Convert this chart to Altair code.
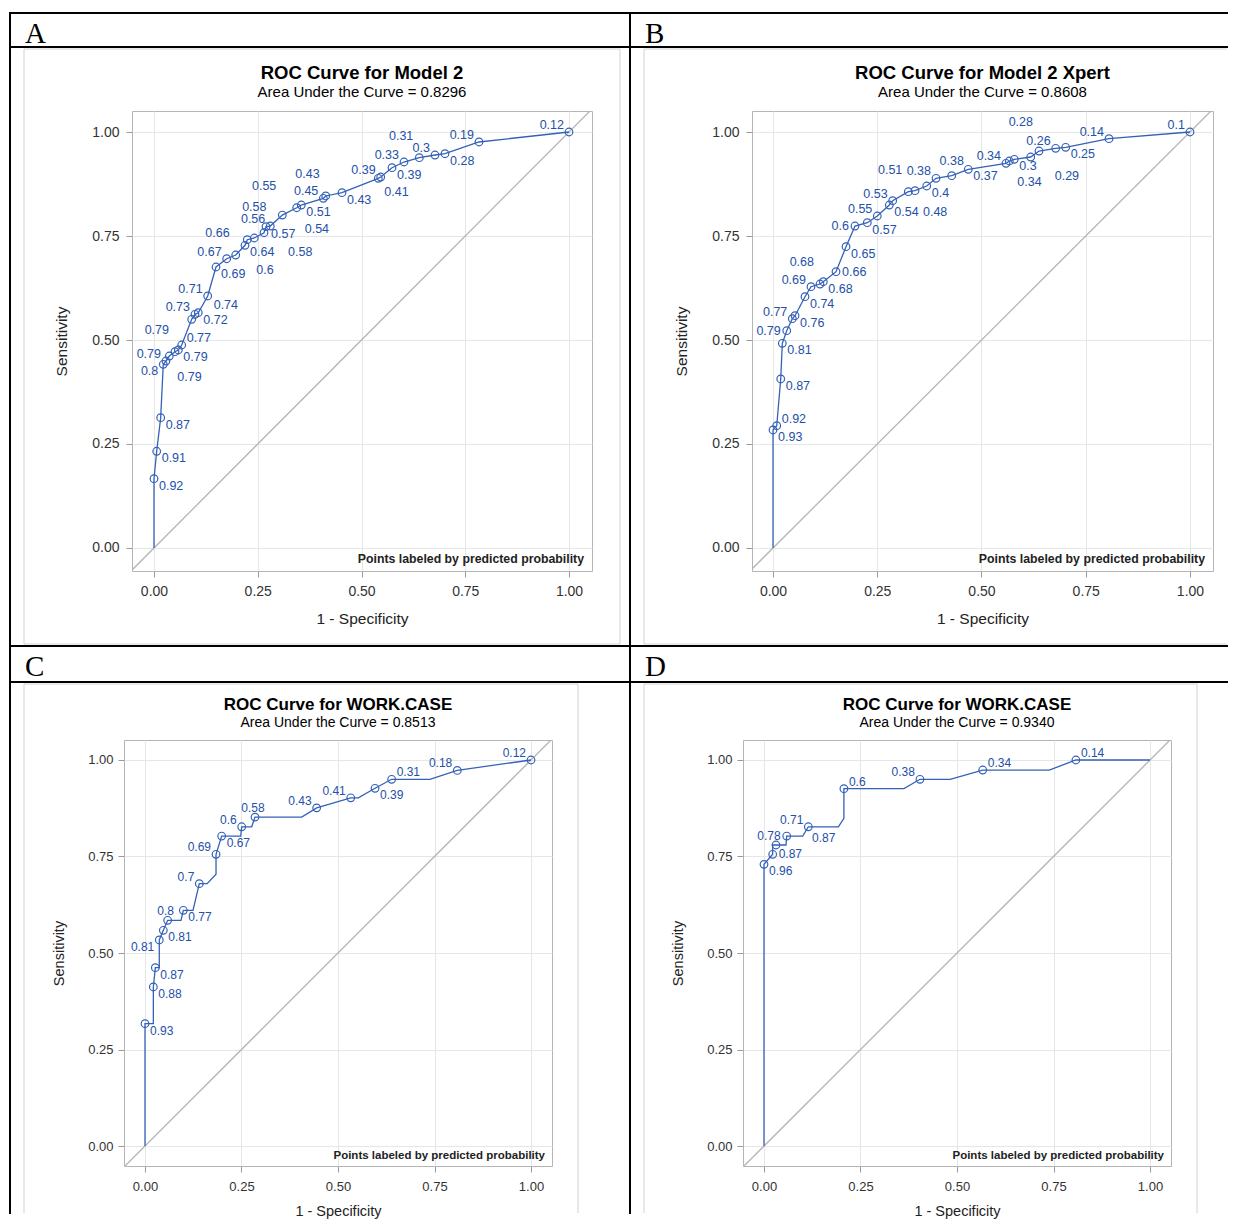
import altair as alt
import pandas as pd

# ---------------- Panel A : ROC Curve for Model 2 ----------------
a_fpr = [0.0, 0.0, 0.0065, 0.0161, 0.0224, 0.0289, 0.0369, 0.0506, 0.0586, 0.0667,
         0.0908, 0.0988, 0.1067, 0.1294, 0.1494, 0.1752, 0.1969, 0.2193, 0.2248, 0.2417,
         0.2651, 0.2699, 0.2802, 0.3092, 0.3439, 0.3549, 0.4080, 0.4137, 0.4530, 0.5405,
         0.5463, 0.5735, 0.6024, 0.6393, 0.6771, 0.7012, 0.7831, 1.0]
a_tpr = [0.0, 0.1666, 0.2325, 0.3132, 0.4416, 0.4495, 0.4615, 0.4719, 0.4760, 0.4880,
         0.5498, 0.5618, 0.5656, 0.6058, 0.6755, 0.6954, 0.7043, 0.7276, 0.7411, 0.7452,
         0.7579, 0.7724, 0.7740, 0.8003, 0.8180, 0.8245, 0.8406, 0.8462, 0.8541, 0.8887,
         0.8918, 0.9142, 0.9279, 0.9382, 0.9447, 0.9478, 0.9760, 1.0]
a_prob = ["", "0.92", "0.91", "0.87", "0.8", "0.79", "0.79", "0.79", "0.79", "0.77",
          "0.74", "0.73", "0.72", "0.71", "0.69", "0.67", "0.66", "0.64", "0.6", "0.58",
          "0.58", "0.57", "0.56", "0.55", "0.54", "0.51", "0.45", "0.43", "0.43", "0.41",
          "0.39", "0.39", "0.33", "0.31", "0.3", "0.28", "0.19", "0.12"]
a_lpos = ["", "se", "se", "se", "sw", "nw", "se2", "nw2", "se", "ne",
          "ne2", "nw", "se", "nw", "se", "nw", "nw2", "se", "se3", "n3",
          "se4", "se", "nw", "nw3", "se2", "se", "nw", "nw2", "se", "sse",
          "nw", "se", "nw", "nw2", "nw", "se", "nw", "nw"]

# ---------------- Panel B : ROC Curve for Model 2 Xpert ----------------
b_fpr = [0.0, 0.0, 0.0089, 0.0185, 0.0223, 0.0329, 0.0463, 0.0528, 0.0767, 0.0911,
         0.1127, 0.1206, 0.1511, 0.1751, 0.1966, 0.2261, 0.2501, 0.2789, 0.2870, 0.3245,
         0.3405, 0.3686, 0.3909, 0.4285, 0.4683, 0.5588, 0.5667, 0.5787, 0.6180, 0.6379,
         0.6779, 0.7019, 0.8058, 1.0]
b_tpr = [0.0, 0.2837, 0.2940, 0.4063, 0.4921, 0.5224, 0.5512, 0.5584, 0.6041, 0.6281,
         0.6346, 0.6401, 0.6642, 0.7243, 0.7740, 0.7820, 0.7981, 0.8245, 0.8349, 0.8565,
         0.8589, 0.8702, 0.8887, 0.8950, 0.9103, 0.9248, 0.9303, 0.9344, 0.9399, 0.9543,
         0.9608, 0.9632, 0.9839, 1.0]
b_prob = ["", "0.93", "0.92", "0.87", "0.81", "0.79", "0.77", "0.76", "0.74", "0.69",
          "0.68", "0.68", "0.66", "0.65", "0.6", "0.57", "0.55", "0.54", "0.53", "0.51",
          "0.48", "0.4", "0.38", "0.38", "0.37", "0.34", "0.34", "0.3", "0.29", "0.28",
          "0.26", "0.25", "0.14", "0.1"]
b_lpos = ["", "se", "ne", "se", "se", "w", "nw", "se", "se", "nw",
          "nw2", "se", "e", "se", "w", "se", "nw", "se", "nw", "nw2",
          "se2", "se", "nw", "n", "se", "nw", "se2", "se", "se4", "nw3",
          "nw", "se", "nw", "nw"]

# ---------------- Panel C : ROC Curve for WORK.CASE (0.8513) ----------------
c_fpr = [0.0, 0.0, 0.0216, 0.0216, 0.0268, 0.037, 0.037, 0.0475, 0.0587, 0.0933,
         0.0993, 0.1244, 0.1407, 0.161, 0.184, 0.184, 0.1986, 0.248, 0.2505, 0.2764,
         0.285, 0.406, 0.4447, 0.533, 0.5527, 0.596, 0.639, 0.738, 0.809, 1.0]
c_tpr = [0.0, 0.317, 0.317, 0.412, 0.462, 0.462, 0.5337, 0.5588, 0.5847, 0.5847,
         0.6106, 0.6106, 0.6796, 0.6796, 0.704, 0.7557, 0.803, 0.803, 0.827, 0.827,
         0.852, 0.852, 0.876, 0.902, 0.902, 0.9267, 0.950, 0.950, 0.973, 1.0]
c_prob = ["", "0.93", "", "0.88", "0.87", "", "0.81", "0.81", "0.8", "",
          "0.77", "", "0.7", "", "", "0.69", "0.67", "", "0.6", "",
          "0.58", "", "0.43", "0.41", "", "0.39", "0.31", "", "0.18", "0.12"]
c_lpos = ["", "se", "", "se", "se", "", "sw", "se", "n1", "",
          "se", "", "nw", "", "", "nw", "se", "", "nw", "",
          "n1", "", "nw", "nw", "", "se", "ne", "", "nw", "nw"]

# ---------------- Panel D : ROC Curve for WORK.CASE (0.9340) ----------------
d_fpr = [0.0, 0.0, 0.0225, 0.0225, 0.031, 0.057, 0.0588, 0.1002, 0.1148, 0.1926,
         0.207, 0.207, 0.3627, 0.404, 0.482, 0.5666, 0.739, 0.808, 1.0]
d_tpr = [0.0, 0.7297, 0.7557, 0.7798, 0.7798, 0.7798, 0.803, 0.803, 0.827, 0.827,
         0.849, 0.9257, 0.9257, 0.950, 0.950, 0.974, 0.974, 1.0, 1.0]
d_prob = ["", "0.96", "0.87", "", "0.87", "", "0.78", "", "0.71", "",
          "", "0.6", "", "0.38", "", "0.34", "", "0.14", ""]
d_lpos = ["", "se", "e", "", "e2", "", "w", "", "nw", "",
          "", "ne", "", "nw", "", "ne", "", "ne", ""]

tick_values = [0.0, 0.25, 0.5, 0.75, 1.0]

# ---------------- styling ----------------
FONT = "Liberation Sans"
LINE_BLUE = "#3461B8"
LABEL_BLUE = "#2450A8"

# label placement codes -> (dx, dy, align)
POS = {
    "ne": (5, -7, "left"), "nw": (-5, -7, "right"),
    "se": (5, 7, "left"), "sw": (-5, 7, "right"),
    "e": (6, 0, "left"), "w": (-6, 0, "right"),
    "n": (0, -15, "center"), "n1": (-2, -9, "center"),
    "nw2": (-6, -22, "right"), "se2": (8, 21, "left"),
    "ne2": (22, -14, "left"), "e2": (36, -7, "left"),
    "n3": (0, -31, "center"), "nw3": (-6, -29, "right"),
    "se3": (9, 30, "left"), "se4": (24, 19, "left"),
    "sse": (6, 14, "left"),
}

ONE = pd.DataFrame({"k": [0]})


def bar(box, frame, opacity=1.0):
    """solid black table-border strip, box = (x1, y1, x2, y2) in page pixels"""
    fx, fy = frame
    x1, y1, x2, y2 = box
    return alt.Chart(ONE).mark_rect(color="black", opacity=opacity).encode(
        x=alt.value(x1 - fx), x2=alt.value(x2 - fx),
        y=alt.value(y1 - fy), y2=alt.value(y2 - fy))


def seg(p1, p2, frame, color="#d2d2d2", width=1):
    fx, fy = frame
    return alt.Chart(ONE).mark_rule(color=color, strokeWidth=width).encode(
        x=alt.value(p1[0] - fx), x2=alt.value(p2[0] - fx),
        y=alt.value(p1[1] - fy), y2=alt.value(p2[1] - fy))


def note(text, x, y, size, weight="normal", align="center", baseline="middle",
         font=FONT, color="#000000"):
    return alt.Chart(ONE).mark_text(text=text, fontSize=size, fontWeight=weight, align=align,
                                    baseline=baseline, font=font, color=color).encode(
        x=alt.value(x), y=alt.value(y))


def panel(fpr, tpr, prob, lpos, P):
    df = pd.DataFrame({"i": list(range(len(fpr))), "fpr": fpr, "tpr": tpr,
                       "prob": prob, "pos": lpos})
    pts = df[df["prob"] != ""]
    W, H = P["W"], P["H"]
    xs = alt.Scale(domain=P["xdom"], nice=False, zero=False)
    ys = alt.Scale(domain=P["ydom"], nice=False, zero=False)
    common = dict(values=tick_values, format=".2f", grid=True, gridColor="#e6e6e6",
                  domain=False, ticks=True, tickColor="#9a9a9a", tickSize=6,
                  labelFont=FONT, labelFontSize=P["tick_fs"], labelColor="#333333",
                  titleFont=FONT, titleFontSize=P["axt_fs"], titleFontWeight="normal",
                  titleColor="#222222")
    xaxis = alt.Axis(labelPadding=P["xlp"], titlePadding=P["xtp"], **common)
    yaxis = alt.Axis(labelPadding=P["ylp"], titlePadding=P["ytp"], **common)
    X = alt.X("fpr:Q", scale=xs, axis=xaxis, title="1 - Specificity")
    Y = alt.Y("tpr:Q", scale=ys, axis=yaxis, title="Sensitivity")

    diag_df = pd.DataFrame({"fpr": [-0.2, 1.2], "tpr": [-0.2, 1.2]})
    layers = [
        alt.Chart(diag_df).mark_line(color="#b4b4b4", strokeWidth=1.3, clip=True).encode(x=X, y=Y),
        alt.Chart(df).mark_line(color=LINE_BLUE, strokeWidth=1.3).encode(x=X, y=Y, order="i:Q"),
        alt.Chart(pts).mark_point(shape="circle", filled=False, size=58, color=LINE_BLUE,
                                  strokeWidth=1.2, opacity=1).encode(x=X, y=Y),
    ]
    for code, (dx, dy, al) in POS.items():
        sub = pts[pts["pos"] == code]
        if len(sub) == 0:
            continue
        layers.append(alt.Chart(sub).mark_text(dx=dx, dy=dy, align=al, baseline="middle",
                                               font=FONT, fontSize=P["lab_fs"],
                                               color=LABEL_BLUE).encode(x=X, y=Y, text="prob:N"))
    # titles and footnote
    layers.append(note(P["title"], W / 2, P["ty"], P["title_fs"], weight="bold"))
    layers.append(note(P["sub"], W / 2, P["sy"], P["sub_fs"]))
    layers.append(note("Points labeled by predicted probability", W - P["fn_dx"], H - P["fn_dy"],
                       P["fn_fs"], weight="bold", align="right", color="#222222"))
    # table cell decoration
    fr = P["frame"]
    for box in P["black"]:
        layers.append(bar(box, fr))
    for box in P.get("ghost", []):
        layers.append(bar(box, fr, opacity=0.0))
    for (x1, y1, x2, y2) in P["gray"]:
        layers.append(seg((x1, y1), (x2, y2), fr))
    lx, ly = P["letter_at"]
    layers.append(note(P["letter"], lx - fr[0], ly - fr[1], 29, align="left",
                       baseline="alphabetic", font="Liberation Serif"))
    return alt.layer(*layers).properties(width=W, height=H)


def spacer():
    # tiny invisible cell so both rows are positioned by their bounds
    return alt.Chart(ONE).mark_rule(opacity=0, strokeWidth=0).encode(
        x=alt.value(0), x2=alt.value(0), y=alt.value(0), y2=alt.value(0)
    ).properties(width=1, height=1, view=alt.ViewBackground(strokeOpacity=0, fillOpacity=0))


big = dict(tick_fs=14, axt_fs=15.5, lab_fs=12.5, title_fs=18.5, sub_fs=15, fn_fs=12.3,
           xlp=7, xtp=13, ylp=7, ytp=22, ty=-38, sy=-19, fn_dx=8, fn_dy=12, H=460)
small = dict(tick_fs=13, axt_fs=14.5, lab_fs=12, title_fs=17, sub_fs=14, fn_fs=11.5,
             xlp=8.5, xtp=11, ylp=5, ytp=21.5, ty=-35, sy=-17, fn_dx=7, fn_dy=10, H=426)

PA = dict(big, W=460, xdom=[-0.0530, 1.0554], ydom=[-0.0553, 1.0505],
          title="ROC Curve for Model 2", sub="Area Under the Curve = 0.8296",
          letter="A", letter_at=(25, 42), frame=(132, 110),
          black=[(9, 11, 631, 13), (9, 11, 11, 646), (629, 11, 631, 646),
                 (9, 45, 631, 47), (9, 644, 631, 646)],
          gray=[(24, 48, 620, 48), (24, 48, 24, 643), (620, 48, 620, 643), (24, 643, 620, 643)])
PB = dict(big, W=461, xdom=[-0.0504, 1.0552], ydom=[-0.0553, 1.0505],
          title="ROC Curve for Model 2 Xpert", sub="Area Under the Curve = 0.8608",
          letter="B", letter_at=(645, 42), frame=(752, 110),
          black=[(631, 11, 1228, 13), (631, 45, 1228, 47), (631, 644, 1228, 646)],
          gray=[(644, 48, 1227, 48), (644, 48, 644, 643), (644, 643, 1227, 643)])
PC = dict(small, W=428, xdom=[-0.0544, 1.0544], ydom=[-0.0518, 1.0518],
          title="ROC Curve for WORK.CASE", sub="Area Under the Curve = 0.8513",
          letter="C", letter_at=(25, 675), frame=(124, 739),
          black=[(9, 646, 11, 1213), (629, 646, 631, 1213), (9, 680, 631, 682)],
          gray=[(24, 683, 578, 683), (24, 683, 24, 1212), (578, 683, 578, 1212)])
PD = dict(small, W=428, xdom=[-0.0544, 1.0544], ydom=[-0.0518, 1.0518],
          title="ROC Curve for WORK.CASE", sub="Area Under the Curve = 0.9340",
          letter="D", letter_at=(645, 675), frame=(743, 739),
          black=[(631, 680, 1228, 682)],
          ghost=[(631, 646, 1228, 647)],
          gray=[(644, 683, 1197, 683), (644, 683, 644, 1212), (1197, 683, 1197, 1212)])

A = panel(a_fpr, a_tpr, a_prob, a_lpos, PA)
B = panel(b_fpr, b_tpr, b_prob, b_lpos, PB)
C = panel(c_fpr, c_tpr, c_prob, c_lpos, PC)
D = panel(d_fpr, d_tpr, d_prob, d_lpos, PD)

chart = alt.vconcat(
    alt.hconcat(spacer(), A, B, spacing=-2),
    alt.hconcat(spacer(), C, D, spacing=-2),
    spacing=-2,
).properties(
    padding={"left": 0, "top": 3, "right": 0, "bottom": 0}
).configure(
    font=FONT,
    view=alt.ViewConfig(stroke="#b5b5b5", strokeWidth=1),
)

chart.save("out.html", embed_options={"renderer": "svg", "actions": False})
